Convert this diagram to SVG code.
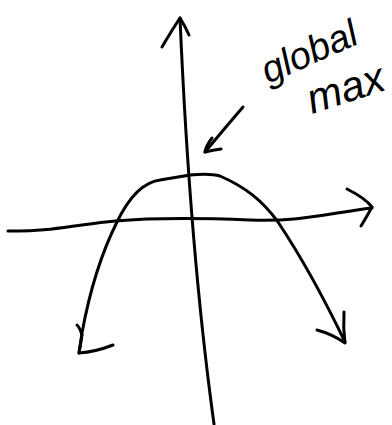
<svg xmlns="http://www.w3.org/2000/svg" width="392" height="425" viewBox="0 0 392 425">
<style>
.s{fill:none;stroke:#000;stroke-width:3;stroke-linecap:round;stroke-linejoin:round}
.t{font-family:"Liberation Sans","DejaVu Sans",sans-serif;font-style:italic;fill:#000}
</style>
<rect width="392" height="425" fill="#fff"/>
<g id="y-axis">
<path class="s" d="M180 18 Q190 250 214 424"/>
<path class="s" d="M162 47 Q172 30 180 18 Q185 26 189 35"/>
</g>
<g id="x-axis">
<path class="s" d="M8 231 C60 231 80 224 115 221 S200 218 250 220 S330 213 372 208"/>
<path class="s" d="M347 189 Q365 198 372 207 Q366 218 361 226"/>
</g>
<g id="curve">
<path class="s" d="M79 353 L82 333 C88 300 98 260 117 222 C130 195 145 182 160 180 L190 175 C200 174 210 173 220 176 C245 187 262 200 278 222 C300 255 320 290 345 342"/>
<path class="s" d="M77 325 Q80 328 82 335 L79 353 Q95 352 113 345"/>
<path class="s" d="M317 330 Q332 334 345 343 Q343 328 344 312"/>
</g>
<g id="leader">
<path class="s" d="M243 107 Q225 128 205 152"/>
<path class="s" d="M212 138 Q206 146 205 152 Q213 150 221 149"/>
</g>
<g id="label">
<text class="t" font-size="38" transform="translate(268 84) rotate(-24)">global</text>
<text class="t" font-size="42" transform="translate(312 114) rotate(-18)">max</text>
</g>
</svg>
